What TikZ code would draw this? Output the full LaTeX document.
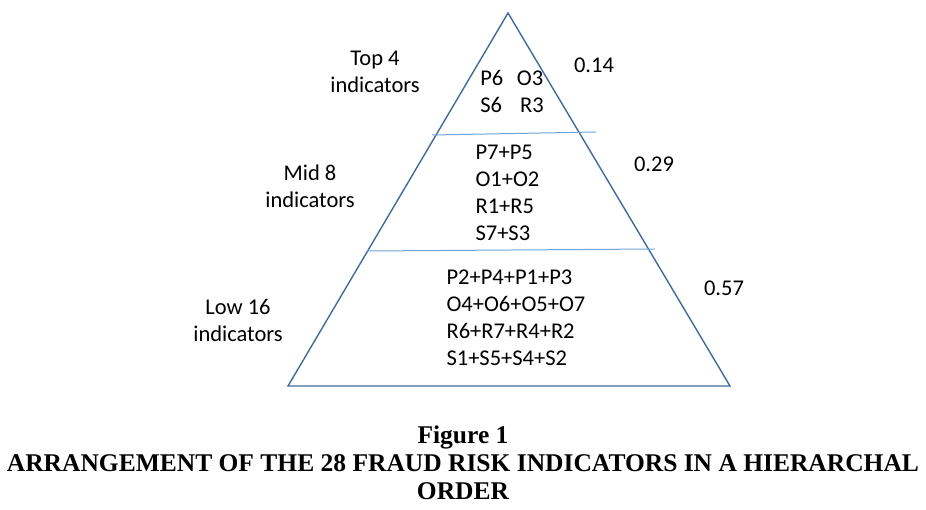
\documentclass[tikz,border=0pt]{standalone}
\usepackage{fontspec}
\setmainfont{Carlito}
\newfontfamily\capfont{Liberation Serif}
\definecolor{edgeblue}{HTML}{41699A}
\definecolor{splitblue}{HTML}{6FA3D8}
\begin{document}
\begin{tikzpicture}[x=1pt, y=-1pt,
    lbl/.style={align=center, font=\fontsize{22.5}{27}\selectfont},
    items/.style={align=left, font=\fontsize{22.5}{27}\selectfont},
    captext/.style={align=center, font=\capfont\bfseries\fontsize{25.5}{28}\selectfont}]
    \useasboundingbox (0,0) rectangle (926,510);
    % Pyramid
    \coordinate (apex) at (508, 13);
    \coordinate (baseL) at (288, 386);
    \coordinate (baseR) at (730, 386);
    \draw[edgeblue, line width=1.4pt, line join=miter] (apex) -- (baseR) -- (baseL) -- cycle;
    
    % Splits
    \coordinate (s1L) at (432, 135);
    \coordinate (s1R) at (596, 132);
    \coordinate (s2L) at (367, 251);
    \coordinate (s2R) at (655, 249);
    \draw[splitblue, line width=1pt] (s1L) -- (s1R);
    \draw[splitblue, line width=1pt] (s2L) -- (s2R);
    
    % Levels
    \node[lbl] (top) at (375, 72) {Top 4\\indicators};
    \node[lbl] (mid) at (310, 186) {Mid 8\\indicators};
    \node[lbl] (low) at (238, 320) {Low 16\\indicators};
    
    % Indicators
    \node[items] (topset) at (512, 91) {P6\hspace{0.6em}O3\\S6\hspace{0.8em}R3};
    \node[items, anchor=west] (midset) at (472, 193) {P7+P5\\O1+O2\\R1+R5\\S7+S3};
    \node[items, anchor=west] (lowset) at (443, 318) {P2+P4+P1+P3\\O4+O6+O5+O7\\R6+R7+R4+R2\\S1+S5+S4+S2};
    
    % Weights
    \node[lbl] (w1) at (594, 65) {0.14};
    \node[lbl] (w2) at (654, 164) {0.29};
    \node[lbl] (w3) at (724, 288) {0.57};
    
    % Caption
    \node[captext] (caption) at (463, 463) {Figure 1\\ARRANGEMENT OF THE 28 FRAUD RISK INDICATORS IN A HIERARCHAL\\ORDER};
\end{tikzpicture}
\end{document}
